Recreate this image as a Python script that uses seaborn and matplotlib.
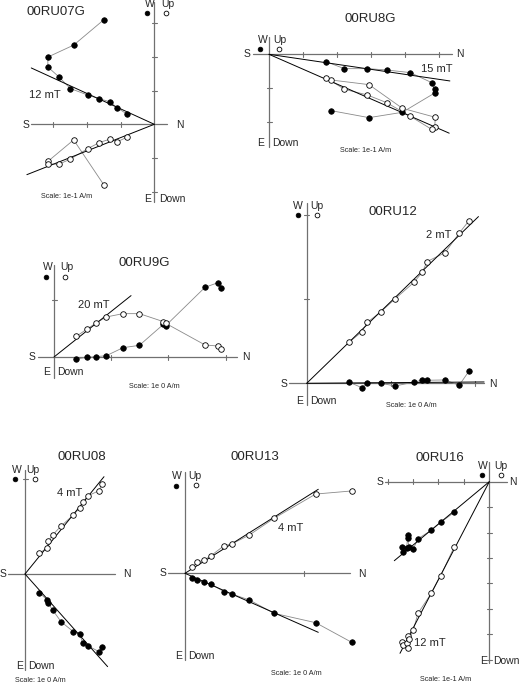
import matplotlib
matplotlib.use("Agg")
import matplotlib.pyplot as plt
import seaborn as sns

# Zijderveld diagrams, values in tick units (N on x, W/Up on y)
# filled = horizontal projection (W), open = vertical projection (Up)

ru07g_n = [-1.485, -2.386, -3.149, -3.149, -2.832, -2.485, -1.960, -1.624, -1.317, -1.099, -0.812]
ru07g_w = [3.10, 2.343, 1.990, 1.696, 1.412, 1.059, 0.863, 0.755, 0.667, 0.490, 0.304]
ru07g_up = [-1.804, -0.461, -1.098, -1.167, -1.186, -1.029, -0.716, -0.539, -0.441, -0.520, -0.382]
ru07g_fit_w = [-3.64, 1.667]
ru07g_fit_up = [-3.77, -1.49]

ru8g_n = [1.824, 2.941, 3.922, 4.892, 4.873, 4.784, 4.157, 3.461, 2.892, 2.216, 1.676]
ru8g_w = [-1.657, -1.863, -1.706, -1.127, -1.029, -0.833, -0.539, -0.461, -0.422, -0.422, -0.216]
ru8g_up = [-0.755, -0.892, -1.588, -1.853, -2.147, -2.206, -1.824, -1.422, -1.196, -1.029, -0.686]
ru8g_fit_w = [5.32, -0.784]
ru8g_fit_up = [5.30, -2.32]

ru9g_n = [0.391, 0.571, 0.735, 0.915, 1.207, 1.493, 1.913, 1.953, 2.641, 2.869, 2.915]
ru9g_w = [-0.035, -0.006, 0.006, 0.023, 0.163, 0.204, 0.571, 0.548, 1.219, 1.300, 1.213]
ru9g_up = [0.362, 0.484, 0.595, 0.700, 0.758, 0.758, 0.618, 0.589, 0.210, 0.192, 0.140]
ru9g_fit_up = [1.347, 1.073]

ru12_n = [0.507, 0.653, 0.721, 0.879, 1.053, 1.279, 1.374, 1.430, 1.644, 1.810, 1.929]
ru12_w = [0.012, -0.051, 0.008, 0.0, -0.032, 0.016, 0.036, 0.036, 0.040, -0.024, 0.147]
ru12_up = [0.491, 0.610, 0.725, 0.848, 1.006, 1.204, 1.323, 1.446, 1.552, 1.782, 1.933]
ru12_fit_w = [2.107, 0.016]
ru12_fit_up = [2.04, 1.98]

ru08_n = [0.150, 0.234, 0.245, 0.290, 0.378, 0.507, 0.577, 0.605, 0.664, 0.776, 0.811]
ru08_w = [-0.196, -0.273, -0.308, -0.378, -0.500, -0.605, -0.633, -0.727, -0.755, -0.815, -0.769]
ru08_up = [0.217, 0.276, 0.346, 0.409, 0.503, 0.619, 0.696, 0.752, 0.822, 0.874, 0.941]
ru08_fit_w = [0.867, -0.972]
ru08_fit_up = [0.829, 1.021]

ru13_n = [0.0616, 0.1036, 0.160, 0.216, 0.328, 0.398, 0.541, 0.748, 1.098, 1.401]
ru13_w = [-0.042, -0.059, -0.076, -0.090, -0.154, -0.176, -0.224, -0.336, -0.415, -0.580]
ru13_up = [0.056, 0.092, 0.112, 0.146, 0.232, 0.249, 0.322, 0.462, 0.666, 0.692]
ru13_fit_w = [1.120, -0.496]
ru13_fit_up = [1.120, 0.706]

ru16_n = [-3.421, -3.382, -3.248, -3.209, -3.209, -3.158, -2.989, -2.804, -2.281, -1.911, -1.376]
ru16_w = [-2.556, -2.776, -2.619, -2.096, -2.226, -2.580, -2.647, -2.241, -1.911, -1.597, -1.203]
ru16_up = [-6.315, -6.422, -6.355, -6.068, -6.551, -6.197, -5.832, -5.175, -4.389, -3.696, -2.556]
ru16_fit_w = [-3.736, -3.107]
ru16_fit_up = [-3.512, -6.748]

W, H = 520, 686

sns.set_style("white")
plt.rcParams['font.family'] = ['Liberation Sans', 'DejaVu Sans']

fig = plt.figure(figsize=(W / 100, H / 100), dpi=100)

# pixel-space axes for the small key symbols
deco = fig.add_axes([0, 0, 1, 1])
deco.set_xlim(0, W)
deco.set_ylim(H, 0)
deco.axis('off')

AXIS_C = '#707070'
LINK_C = '#8a8a8a'


def txt(x, y, s, size=7.5):
    fig.text(x / W, 1 - y / H, s, ha='center', va='center', fontsize=size)


def panel(ox, oy, s, hext, vext, hticks, vticks):
    ax = fig.add_axes([0, 0, 1, 1])
    ax.set_xlim(-ox / s, (W - ox) / s)
    ax.set_ylim(-(H - oy) / s, oy / s)
    ax.axis('off')
    ax.plot(hext, [0, 0], color=AXIS_C, lw=0.9, zorder=1)
    ax.plot([0, 0], vext, color=AXIS_C, lw=0.9, zorder=1)
    t = 2.5 / s
    for v in hticks:
        ax.plot([v, v], [-t, t], color=AXIS_C, lw=0.8, zorder=1)
    for v in vticks:
        ax.plot([-t, t], [v, v], color=AXIS_C, lw=0.8, zorder=1)
    return ax


def draw(ax, n, w, up, fit_w=None, fit_up=None):
    for yy in (w, up):
        sns.lineplot(x=n, y=yy, sort=False, estimator=None, color=LINK_C,
                     lw=0.6, ax=ax, zorder=2)
    for f in (fit_w, fit_up):
        if f is not None:
            ax.plot([0, f[0]], [0, f[1]], color='black', lw=0.7, zorder=3)
    sns.scatterplot(x=n, y=w, s=16, color='black', edgecolor='black',
                    linewidth=0.5, ax=ax, zorder=4)
    sns.scatterplot(x=n, y=up, s=16, color='white', edgecolor='black',
                    linewidth=0.6, ax=ax, zorder=5)


def labels(title, tpos, s_, n_, w_, up_, e_, down_, mk_f, mk_o, step, spos, scale, scpos):
    txt(*tpos, title, size=9.5)
    txt(*s_, "S")
    txt(*n_, "N")
    txt(*w_, "W")
    txt(*up_, "Up")
    txt(*e_, "E")
    txt(*down_, "Down")
    txt(*spos, step, size=8)
    txt(*scpos, scale, size=5.2)
    deco.plot([mk_f[0]], [mk_f[1]], 'o', ms=3.4, mfc='black', mec='black', mew=0.5)
    deco.plot([mk_o[0]], [mk_o[1]], 'o', ms=3.4, mfc='white', mec='black', mew=0.6)


# 00RU07G
ax = panel(154.3, 124.3, 33.8, [-3.64, 0.37], [-2.29, 3.62], [-3, -2, -1], [-2, -1, 1, 2, 3])
draw(ax, ru07g_n, ru07g_w, ru07g_up, ru07g_fit_w, ru07g_fit_up)
labels("00RU07G", (56, 12), (26, 124.5), (180, 124.5), (150, 4), (168, 4),
       (148, 199), (172, 199), (146.7, 13.3), (166, 13.3), "12 mT", (44.5, 94.5),
       "Scale: 1e-1 A/m", (67, 197))

# 00RU8G
ax = panel(269, 54.3, 34, [-0.46, 5.37], [-2.72, 0.52], [1, 2, 3, 4, 5], [-2, -1])
draw(ax, ru8g_n, ru8g_w, ru8g_up, ru8g_fit_w, ru8g_fit_up)
labels("00RU8G", (370.7, 19.3), (246.7, 54.3), (460, 54.3), (262.7, 40), (280, 40),
       (260.7, 142.7), (285, 142.7), (260, 49.3), (279.3, 49.3), "15 mT", (436.7, 69.3),
       "Scale: 1e-1 A/m", (366, 150))

# 00RU9G
ax = panel(54, 357, 57.2, [-0.274, 3.207], [-0.37, 1.61], [1, 2, 3], [1])
draw(ax, ru9g_n, ru9g_w, ru9g_up, None, ru9g_fit_up)
labels("00RU9G", (144, 263), (32.3, 357), (245.7, 357), (48.3, 267.3), (66.7, 267.3),
       (46.7, 371.7), (70, 371.7), (45.7, 277.3), (65, 277.3), "20 mT", (93.3, 305),
       "Scale: 1e 0 A/m", (154, 386))

# 00RU12
ax = panel(306.7, 383.3, 84.2, [-0.206, 2.107], [-0.258, 2.14], [1, 2], [1, 2])
draw(ax, ru12_n, ru12_w, ru12_up, ru12_fit_w, ru12_fit_up)
labels("00RU12", (393.3, 211.7), (284, 384), (493.3, 384), (297.7, 206), (317.3, 206),
       (299.3, 401), (323.3, 401), (297.7, 215), (317.3, 215), "2 mT", (438.3, 235),
       "Scale: 1e 0 A/m", (411.7, 405.7))

# 00RU08
ax = panel(25, 574, 95.3, [-0.175, 0.944], [-1.007, 1.09], [], [1])
draw(ax, ru08_n, ru08_w, ru08_up, ru08_fit_w, ru08_fit_up)
labels("00RU08", (81.7, 456.7), (3.3, 574), (126.7, 574), (17.3, 470), (33.3, 470),
       (19.3, 666), (41.7, 666), (15, 479), (35, 479), "4 mT", (70, 493.3),
       "Scale: 1e 0 A/m", (40.7, 680.7))

# 00RU13
ax = panel(185, 573.3, 119, [-0.14, 1.39], [-0.729, 0.854], [1], [])
draw(ax, ru13_n, ru13_w, ru13_up, ru13_fit_w, ru13_fit_up)
labels("00RU13", (255, 456.7), (162.7, 573.3), (361.7, 574), (177.3, 475.7), (195, 475.7),
       (178.3, 656), (201.7, 656), (176, 485.7), (196, 485), "4 mT", (290.7, 528.3),
       "Scale: 1e 0 A/m", (296.7, 673.3))

# 00RU16
ax = panel(489.3, 481.7, 25.43, [-4.10, 0.68], [-7.14, 0.786], [-4, -3, -2, -1],
           [-7, -6, -5, -4, -3, -2, -1])
draw(ax, ru16_n, ru16_w, ru16_up, ru16_fit_w, ru16_fit_up)
labels("00RU16", (440, 458.3), (380, 481.7), (512.7, 481.7), (482.7, 466), (501.3, 466),
       (483.3, 660.7), (506.7, 660.7), (481.7, 475), (501.3, 475), "12 mT", (430, 642.7),
       "Scale: 1e-1 A/m", (446, 679.3))

fig.savefig("out.png", dpi=100)
